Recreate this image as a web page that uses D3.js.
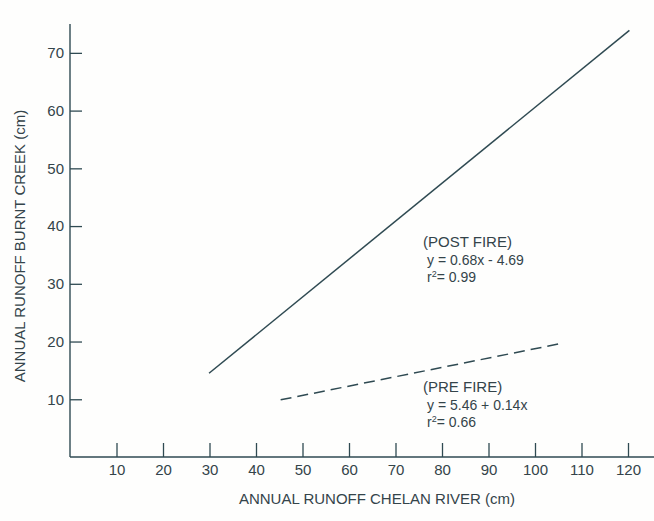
<!DOCTYPE html>
<html>
<head>
<meta charset="utf-8">
<script src="https://cdn.jsdelivr.net/npm/d3@7"></script>
<style>
  body { margin: 0; background: #fefefd; }
  svg { display: block; }
  text { font-family: "Liberation Sans", Arial, sans-serif; fill: #34444a; }
</style>
</head>
<body>
<div id="chart"></div>
<script>
// data
var xTicks = [10, 20, 30, 40, 50, 60, 70, 80, 90, 100, 110, 120];
var yTicks = [10, 20, 30, 40, 50, 60, 70];
var postFire = [{x: 29.9, y: 14.5}, {x: 120.3, y: 73.9}];
var preFire = [{x: 45.3, y: 9.9}, {x: 105.2, y: 19.6}];
var postLabel = ["(POST FIRE)", "y = 0.68x - 4.69", "0.99"];
var preLabel = ["(PRE FIRE)", "y = 5.46 + 0.14x", "0.66"];
var xTitle = "ANNUAL RUNOFF CHELAN RIVER (cm)";
var yTitle = "ANNUAL RUNOFF BURNT CREEK (cm)";

var width = 654, height = 521;
var ink = "#2f4a52";

var svg = d3.select("#chart").append("svg")
    .attr("width", width)
    .attr("height", height);

var x = d3.scaleLinear().domain([0, 120]).range([70, 628]);
var y = d3.scaleLinear().domain([0, 75]).range([457, 24]);

// axes: ticks point inward, no domain path (drawn below)
var xAxis = d3.axisBottom(x).tickValues(xTicks).tickSize(-14).tickPadding(7).tickSizeOuter(0);
var yAxis = d3.axisLeft(y).tickValues(yTicks).tickSize(-12).tickPadding(6).tickSizeOuter(0);

var gx = svg.append("g").attr("transform", "translate(0," + y(0) + ")").call(xAxis);
var gy = svg.append("g").attr("transform", "translate(" + x(0) + ",0)").call(yAxis);

[gx, gy].forEach(function(g) {
    g.select(".domain").remove();
    g.selectAll(".tick line").attr("stroke", ink).attr("stroke-width", 1.3);
    g.selectAll(".tick text")
        .style("font-family", "'Liberation Sans', Arial, sans-serif")
        .style("font-size", "15px")
        .attr("fill", "#34444a");
});

svg.append("line")
    .attr("x1", x(0)).attr("y1", y(0))
    .attr("x2", width).attr("y2", y(0))
    .attr("stroke", ink).attr("stroke-width", 1.4);
svg.append("line")
    .attr("x1", x(0)).attr("y1", y(0))
    .attr("x2", x(0)).attr("y2", y(75))
    .attr("stroke", ink).attr("stroke-width", 1.4);

// regression lines
var line = d3.line().x(function(d) { return x(d.x); }).y(function(d) { return y(d.y); });

svg.append("path")
    .datum(postFire)
    .attr("d", line)
    .attr("fill", "none")
    .attr("stroke", ink)
    .attr("stroke-width", 1.5);

svg.append("path")
    .datum(preFire)
    .attr("d", line)
    .attr("fill", "none")
    .attr("stroke", ink)
    .attr("stroke-width", 1.5)
    .attr("stroke-dasharray", "11,6");

// annotations
function annotate(lines, left, base) {
    var g = svg.append("g").style("font-size", "14px");
    g.append("text").attr("x", left).attr("y", base).style("font-size", "15px").text(lines[0]);
    g.append("text").attr("x", left + 4).attr("y", base + 18).text(lines[1]);
    var r = g.append("text").attr("x", left + 4).attr("y", base + 35);
    r.append("tspan").text("r");
    r.append("tspan").attr("dy", -5).style("font-size", "9px").text("2");
    r.append("tspan").attr("dy", 5).text("= " + lines[2]);
}
annotate(postLabel, 423, 247);
annotate(preLabel, 423, 392);

// axis titles
svg.append("text")
    .attr("x", 377).attr("y", 504)
    .attr("text-anchor", "middle")
    .style("font-size", "15px")
    .text(xTitle);

svg.append("text")
    .attr("transform", "translate(25,246) rotate(-90)")
    .attr("text-anchor", "middle")
    .style("font-size", "15px")
    .text(yTitle);
</script>
</body>
</html>
